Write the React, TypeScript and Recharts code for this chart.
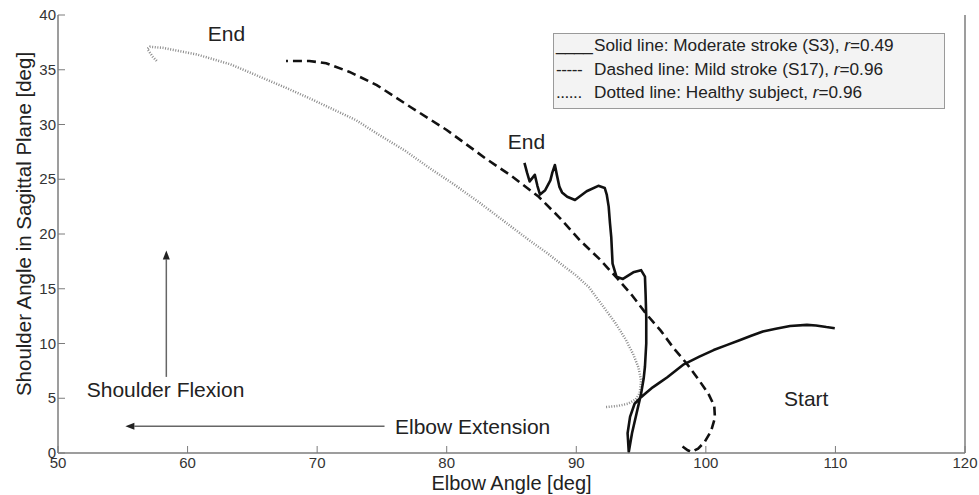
import React from 'react'
import { LineChart, Line, XAxis, YAxis, ReferenceDot, ReferenceLine, Legend } from 'recharts'

// elbow angle (x), shoulder angle (y), in drawing order
const moderateS3: [number, number][] = [
  [109.95, 11.4], [109.3, 11.5], [108.5, 11.65], [107.8, 11.7], [106.5, 11.6], [105.4, 11.35],
  [104.4, 11.1], [103.5, 10.7], [102.6, 10.3], [101.6, 9.85], [100.6, 9.4], [99.5, 8.8],
  [98.3, 8.1], [97.0, 6.9], [96.4, 6.4], [95.9, 6.0], [95.4, 5.5], [95.0, 5.1], [94.5, 4.5],
  [94.15, 3.3], [93.96, 1.8], [94.05, 0.1], [94.3, 1.8], [94.65, 3.6], [95.0, 5.4], [95.2, 6.8],
  [95.3, 7.9], [95.4, 10.0], [95.4, 12.4], [95.35, 14.5], [95.3, 16.1], [95.0, 16.7], [94.4, 16.5],
  [93.6, 15.9], [93.1, 16.1], [92.8, 17.3], [92.75, 18.5], [92.7, 19.7], [92.6, 21.0], [92.5, 22.5],
  [92.35, 23.6], [92.2, 24.2], [91.7, 24.4], [90.8, 23.9], [89.9, 23.1], [89.3, 23.4], [88.9, 23.8],
  [88.7, 24.3], [88.5, 25.4], [88.35, 26.3], [88.15, 25.6], [88.0, 24.9], [87.6, 24.0], [87.2, 23.6],
  [87.0, 24.4], [86.8, 25.4], [86.6, 25.1], [86.4, 24.8], [86.2, 25.6], [86.0, 26.5],
]

const mildS17: [number, number][] = [
  [98.2, 0.6], [98.6, 0.25], [98.9, 0.1], [99.4, 0.4], [99.9, 1.0], [100.4, 2.0], [100.7, 3.2],
  [100.65, 4.3], [100.2, 5.4], [99.5, 6.6], [98.5, 8.2], [97.5, 9.6], [96.5, 11.2], [95.4, 12.7],
  [94.3, 14.4], [93.2, 15.9], [91.8, 17.7], [90.3, 19.4], [88.7, 21.5], [87.1, 23.4], [85.0, 25.3],
  [83.0, 26.9], [80.0, 29.5], [77.2, 31.6], [74.6, 33.6], [72.5, 34.8], [70.7, 35.6], [69.4, 35.8],
  [67.6, 35.8],
]

const healthy: [number, number][] = [
  [92.3, 4.2], [93.2, 4.3], [94.0, 4.5], [94.6, 4.9], [94.9, 5.5], [95.0, 6.6], [94.8, 7.8],
  [94.4, 9.0], [93.8, 10.4], [93.0, 11.9], [92.0, 13.5], [91.0, 15.1], [90.0, 16.2], [89.0, 17.1],
  [87.7, 18.3], [86.4, 19.4], [84.5, 21.1], [82.6, 22.8], [80.6, 24.5], [78.7, 26.0], [76.8, 27.6],
  [74.85, 29.0], [73.0, 30.4], [71.2, 31.4], [69.4, 32.4], [67.5, 33.4], [65.5, 34.4], [63.3, 35.5],
  [60.7, 36.4], [58.1, 37.0], [57.1, 37.1], [56.9, 36.9], [57.3, 36.2], [57.7, 35.7],
]

const xTicks = [50, 60, 70, 80, 90, 100, 110, 120]
const yTicks = [0, 5, 10, 15, 20, 25, 30, 35, 40]

const notes = [
  { x: 63.0, y: 38.3, text: 'End' },
  { x: 86.15, y: 28.45, text: 'End' },
  { x: 107.75, y: 4.95, text: 'Start' },
  { x: 58.3, y: 5.8, text: 'Shoulder Flexion' },
  { x: 82.0, y: 2.4, text: 'Elbow Extension' },
]

const arrows = [
  { from: { x: 58.36, y: 6.95 }, to: { x: 58.36, y: 18.5 } },
  { from: { x: 75.2, y: 2.44 }, to: { x: 55.2, y: 2.44 } },
]

const legendRows = [
  { mark: '____', label: 'Solid line: Moderate stroke (S3), ', r: '0.49' },
  { mark: '-----', label: 'Dashed line: Mild stroke (S17), ', r: '0.96' },
  { mark: '......', label: 'Dotted line: Healthy subject, ', r: '0.96' },
]

const toPts = (arr: [number, number][]) => arr.map(([x, y]) => ({ x, y }))

const AXIS = '#7c7c7c'
const FONT = '"Liberation Sans", Arial, sans-serif'

function BottomTick({ x, y, payload }: any) {
  return (
    <g>
      <line x1={x} y1={y} x2={x} y2={y - 7} stroke={AXIS} />
      <text x={x} y={y + 14.5} textAnchor="middle" fontSize={15} fill="#333" fontFamily={FONT}>
        {payload.value}
      </text>
    </g>
  )
}

function TopTick({ x, y }: any) {
  return <line x1={x} y1={y} x2={x} y2={y + 7} stroke={AXIS} />
}

function LeftTick({ x, y, payload }: any) {
  return (
    <g>
      <line x1={x} y1={y} x2={x + 7} y2={y} stroke={AXIS} />
      <text x={x - 2} y={y + 5} textAnchor="end" fontSize={15} fill="#333" fontFamily={FONT}>
        {payload.value}
      </text>
    </g>
  )
}

function RightTick({ x, y }: any) {
  return <line x1={x} y1={y} x2={x - 7} y2={y} stroke={AXIS} />
}

function YTitle({ viewBox }: any) {
  const cx = viewBox.x + 23
  const cy = viewBox.y + viewBox.height / 2 - 10
  return (
    <text
      x={cx}
      y={cy}
      transform={`rotate(-90 ${cx} ${cy})`}
      textAnchor="middle"
      dominantBaseline="central"
      fontSize={20.5}
      fill="#222"
      fontFamily={FONT}
    >
      Shoulder Angle in Sagittal Plane [deg]
    </text>
  )
}

function XTitle({ viewBox }: any) {
  return (
    <text
      x={viewBox.x + viewBox.width / 2}
      y={viewBox.y + 36.5}
      textAnchor="middle"
      fontSize={20}
      fill="#222"
      fontFamily={FONT}
    >
      Elbow Angle [deg]
    </text>
  )
}

function Arrow({ x1, y1, x2, y2 }: any) {
  const a = Math.atan2(y2 - y1, x2 - x1)
  const len = 9
  const w = 3.5
  const bx = x2 - len * Math.cos(a)
  const by = y2 - len * Math.sin(a)
  const p1 = `${bx + w * Math.sin(a)},${by - w * Math.cos(a)}`
  const p2 = `${bx - w * Math.sin(a)},${by + w * Math.cos(a)}`
  return (
    <g>
      <line x1={x1} y1={y1} x2={bx} y2={by} stroke="#666" strokeWidth={1.5} />
      <polygon points={`${x2},${y2} ${p1} ${p2}`} fill="#222" />
    </g>
  )
}

function LegendBox() {
  return (
    <div
      style={{
        background: '#f3f3f3',
        border: '1px solid #9a9a9a',
        width: 392,
        height: 76,
        boxSizing: 'border-box',
        padding: '0 0 0 2px',
        fontFamily: FONT,
        fontSize: 17.2,
        lineHeight: '23.5px',
        color: '#222',
        whiteSpace: 'nowrap',
      }}
    >
      {legendRows.map((row) => (
        <div key={row.label}>
          <span style={{ display: 'inline-block', width: 38, letterSpacing: '-0.5px' }}>{row.mark}</span>
          {row.label}
          <i>r</i>={row.r}
        </div>
      ))}
    </div>
  )
}

export default function App() {
  return (
    <div style={{ position: 'absolute', left: 0, top: 0, background: '#fff' }}>
      <LineChart width={979} height={495} margin={{ top: 15, right: 0, bottom: 0, left: 0 }}>
        <XAxis
          xAxisId="b"
          dataKey="x"
          type="number"
          domain={[50, 120]}
          ticks={xTicks}
          height={42}
          tickSize={0}
          tickMargin={0}
          tick={<BottomTick />}
          axisLine={{ stroke: AXIS, strokeWidth: 1.5 }}
          label={<XTitle />}
        />
        <XAxis
          xAxisId="t"
          orientation="top"
          dataKey="x"
          type="number"
          domain={[50, 120]}
          ticks={xTicks}
          height={0}
          tickSize={0}
          tickMargin={0}
          tick={<TopTick />}
          axisLine={{ stroke: AXIS, strokeWidth: 1.5 }}
        />
        <YAxis
          yAxisId="l"
          type="number"
          domain={[0, 40]}
          ticks={yTicks}
          width={58}
          tickSize={0}
          tickMargin={0}
          tick={<LeftTick />}
          axisLine={{ stroke: AXIS, strokeWidth: 1.5 }}
          label={<YTitle />}
        />
        <YAxis
          yAxisId="r"
          orientation="right"
          type="number"
          domain={[0, 40]}
          ticks={yTicks}
          width={14}
          tickSize={0}
          tickMargin={0}
          tick={<RightTick />}
          axisLine={{ stroke: AXIS, strokeWidth: 1.5 }}
        />
        <Legend
          layout="horizontal"
          verticalAlign="middle"
          align="center"
          content={<LegendBox />}
          wrapperStyle={{ left: 553, top: 33, width: 392, height: 76 }}
        />
        <Line
          xAxisId="b"
          yAxisId="l"
          data={toPts(healthy)}
          dataKey="y"
          type="linear"
          stroke="#8a8a8a"
          strokeWidth={2.5}
          strokeDasharray="1 1.6"
          dot={false}
          isAnimationActive={false}
        />
        <Line
          xAxisId="b"
          yAxisId="l"
          data={toPts(mildS17)}
          dataKey="y"
          type="linear"
          stroke="#111"
          strokeWidth={2.6}
          strokeDasharray="9 5"
          dot={false}
          isAnimationActive={false}
        />
        <Line
          xAxisId="b"
          yAxisId="l"
          data={toPts(moderateS3)}
          dataKey="y"
          type="linear"
          stroke="#111"
          strokeWidth={2.6}
          strokeLinejoin="round"
          dot={false}
          isAnimationActive={false}
        />
        {arrows.map((a, i) => (
          <ReferenceLine
            key={i}
            xAxisId="b"
            yAxisId="l"
            segment={[a.from, a.to]}
            shape={(p: any) => <Arrow {...p} />}
          />
        ))}
        {notes.map((n, i) => (
          <ReferenceDot
            key={i}
            xAxisId="b"
            yAxisId="l"
            x={n.x}
            y={n.y}
            r={0}
            shape={(p: any) => (
              <text
                x={p.cx}
                y={p.cy + 7.5}
                textAnchor="middle"
                fontSize={21}
                fill="#222"
                fontFamily={FONT}
              >
                {n.text}
              </text>
            )}
          />
        ))}
      </LineChart>
    </div>
  )
}
